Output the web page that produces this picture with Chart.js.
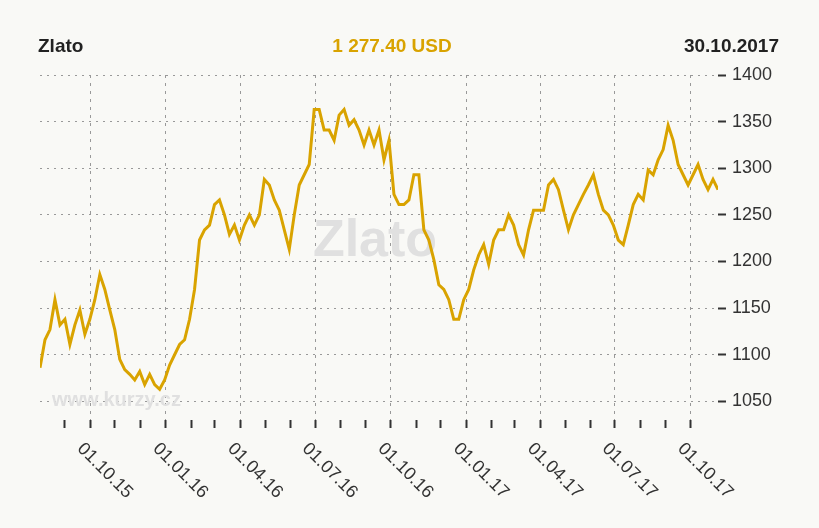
<!DOCTYPE html>
<html><head><meta charset="utf-8">
<script src="https://cdn.jsdelivr.net/npm/chart.js@4"></script>
<style>html,body{margin:0;padding:0;background:#f9f9f6}#w{width:819px;height:528px}canvas{background:#f9f9f6}</style>
</head><body><div id="w"><canvas id="c"></canvas></div>
<script>
// gold price samples, roughly every 6 days starting ~1 Aug 2015
const prices = [1086,1116,1127,1159,1132,1138,1111,1132,1148,1122,1138,1159,1186,1170,1148,1127,1095,1084,1079,1073,
1082,1068,1079,1068,1063,1073,1089,1100,1111,1116,1138,1170,1223,1234,1239,1261,1266,1250,1229,1239,
1223,1239,1250,1239,1250,1288,1282,1266,1255,1234,1213,1250,1282,1293,1304,1363,1363,1341,1341,1330,
1357,1363,1346,1352,1341,1325,1341,1325,1341,1309,1330,1272,1261,1261,1266,1293,1293,1234,1223,1202,
1175,1170,1159,1138,1138,1159,1170,1191,1207,1218,1197,1223,1234,1234,1250,1239,1218,1207,1234,1255,
1255,1255,1282,1288,1277,1255,1234,1250,1261,1272,1282,1293,1272,1255,1250,1239,1223,1218,1239,1261,
1272,1266,1298,1293,1309,1320,1346,1330,1304,1293,1282,1293,1304,1288,1277,1288,1277];
const startDay = -61, stepDays = 6.07; // days relative to 01.10.15
const quarterDays = [0,92,183,274,366,458,548,639,731];
const quarterLabels = ['01.10.15','01.01.16','01.04.16','01.07.16','01.10.16','01.01.17','01.04.17','01.07.17','01.10.17'];
const monthDays = [-31,30,61,123,152,214,244,305,335,397,427,489,517,579,609,670,700];
const yTicks = [1050,1100,1150,1200,1250,1300,1350,1400];
const title = 'Zlato', price = '1 277.40 USD', date = '30.10.2017', site = 'www.kurzy.cz';

const F = '"Liberation Sans"';
const pts = prices.map((v,i)=>({x:startDay+i*stepDays,y:v}));
const gold = '#d9a300';
const deco = {id:'deco',
 beforeDatasetsDraw(ch){const c=ch.ctx;c.save();
  c.fillStyle='#e0e0e0';c.font='bold 52px '+F;c.textAlign='center';c.textBaseline='middle';
  c.fillText(title,375,242);
  c.font='bold 20px '+F;c.textAlign='left';c.fillText(site,52,400);c.restore();},
 afterDraw(ch){const c=ch.ctx,x=ch.scales.x;c.save();
  c.font='bold 19px '+F;c.textBaseline='alphabetic';
  c.fillStyle='#222';c.textAlign='left';c.fillText(title,38,52);
  c.fillStyle=gold;c.textAlign='center';c.fillText(price,392,52);
  c.fillStyle='#222';c.textAlign='right';c.fillText(date,779,52);
  c.font='18px '+F;c.fillStyle='#333';c.textAlign='left';c.textBaseline='middle';
  quarterDays.forEach((d,i)=>{const px=x.getPixelForValue(d);c.save();c.translate(px-10,446);c.rotate(Math.PI/4);c.fillText(quarterLabels[i],0,0);c.restore();});
  c.restore();}};
new Chart(document.getElementById('c'),{type:'line',
 data:{datasets:[{data:pts,borderColor:gold,borderWidth:3,pointRadius:0,tension:0}]},
 options:{animation:false,responsive:true,maintainAspectRatio:false,
  layout:{padding:{left:40,top:75,right:0,bottom:0}},
  plugins:{legend:{display:false},tooltip:{enabled:false}},
  scales:{
   x:{type:'linear',min:startDay,max:startDay+(prices.length-1)*stepDays,border:{display:false,dash:[3,5]},
    afterBuildTicks:s=>{s.ticks=quarterDays.concat(monthDays).map(v=>({value:v}));},
    afterFit:s=>{s.height=108;},
    ticks:{display:false},
    grid:{drawOnChartArea:true,color:c=>quarterDays.includes(c.tick&&c.tick.value)?'#999':'rgba(0,0,0,0)',
      tickColor:'#333',tickLength:8,lineWidth:1,tickWidth:2}},
   y:{position:'right',min:1030,max:1400,border:{display:false,dash:[2,5]},
    afterBuildTicks:s=>{s.ticks=yTicks.map(v=>({value:v}));},
    afterFit:s=>{s.width=101;},
    ticks:{color:'#333',font:{family:'Liberation Sans',size:18},padding:6,callback:v=>String(v)},
    grid:{color:'#999',tickColor:'#333',tickLength:8,tickWidth:2}}
  }},
 plugins:[deco]});
</script>
</body></html>
